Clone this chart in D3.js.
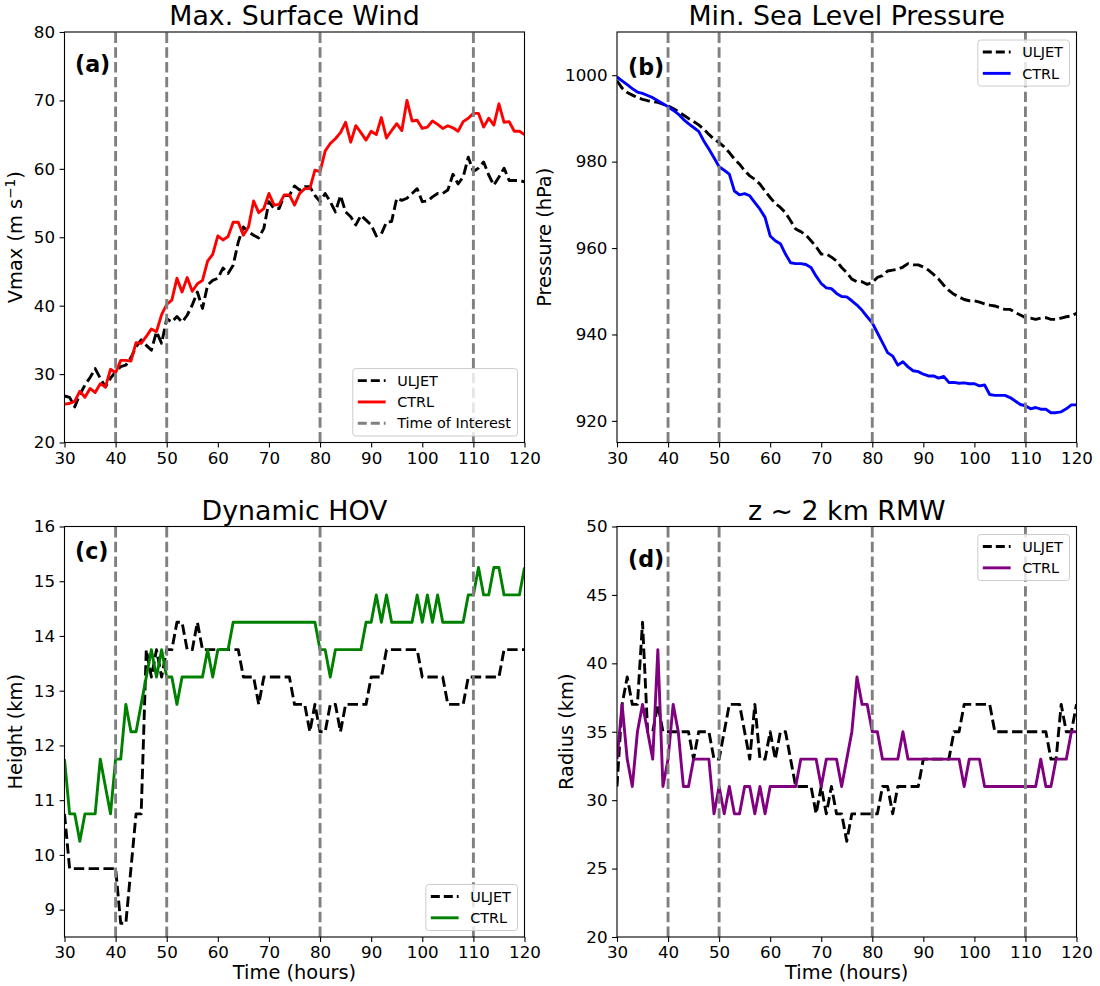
<!DOCTYPE html>
<html>
<head>
<meta charset="utf-8">
<script src="https://cdn.jsdelivr.net/npm/d3@7"></script>
<style>
  body { margin: 0; background: #ffffff; }
  svg text { font-family: "DejaVu Sans", sans-serif; fill: #000; }
</style>
</head>
<body>
<svg id="fig" width="1100" height="986"></svg>
<script>
// Forecast hours (hourly output) and marked times
const hours = d3.range(30, 121);
const timesOfInterest = [40, 50, 80, 110];
const xTicks = [30, 40, 50, 60, 70, 80, 90, 100, 110, 120];

// (a) maximum 10-m wind (m/s)
const windUljet = [
  26.8,26.6,25.2,27.0,28.4,29.5,30.8,29.4,28.1,29.4,
  30.3,31.1,31.3,32.4,34.0,35.0,34.2,33.5,36.2,34.5,
  38.1,37.6,38.4,37.6,38.6,40.1,42.0,39.6,43.0,43.7,
  44.0,45.5,44.7,45.9,49.3,51.5,50.8,50.3,49.9,51.3,
  55.2,54.2,54.2,56.1,56.1,57.5,56.9,57.4,57.4,56.1,
  55.2,56.4,55.2,53.7,56.1,53.7,53.0,51.8,53.2,52.5,
  51.8,50.2,50.5,52.2,52.3,55.7,55.4,55.7,56.4,57.1,
  55.2,55.3,55.9,56.4,56.4,56.9,59.2,57.8,58.8,61.7,
  59.6,60.1,61.0,59.1,57.6,58.8,60.1,58.3,58.3,58.3,
  58.1];
const windCtrl = [
  25.6,25.7,26.0,27.5,26.6,27.9,27.3,28.6,28.1,30.7,
  30.2,32.0,32.0,31.9,34.6,34.5,35.5,36.6,36.2,38.7,
  40.2,40.8,44.0,42.0,44.1,42.1,43.2,43.7,46.5,47.5,
  50.2,49.6,50.1,52.2,52.2,50.3,51.5,55.3,53.6,54.2,
  56.4,54.7,54.8,56.2,56.2,54.7,56.4,57.1,57.1,59.8,
  59.6,62.6,63.7,64.4,65.3,66.8,63.9,66.3,65.3,64.2,
  65.5,65.0,67.5,64.5,65.6,66.6,65.6,70.0,67.0,67.1,
  65.9,66.1,67.0,66.5,65.9,66.3,66.0,65.5,66.9,67.4,
  68.1,68.1,66.1,67.4,66.4,69.5,66.8,66.9,65.5,65.5,
  65.0];

// (b) minimum sea level pressure (hPa)
const presUljet = [
  998.7,997.0,996.0,995.4,994.8,994.4,994.1,993.9,993.7,993.3,
  992.9,992.3,991.6,990.8,990.0,989.3,988.5,987.5,986.3,985.2,
  984.4,983.4,982.1,980.6,979.4,977.9,976.7,975.9,974.8,973.2,
  971.7,970.3,969.4,968.2,966.3,964.4,963.8,963.0,961.7,960.3,
  958.6,958.6,957.9,957.0,955.5,954.3,952.8,952.2,952.2,951.6,
  952.0,953.2,953.6,954.7,954.9,955.1,955.6,956.4,956.1,956.1,
  955.6,954.9,953.9,952.8,951.4,950.2,949.3,948.7,948.1,947.8,
  947.8,947.5,947.1,946.8,946.6,946.2,945.8,945.8,945.1,944.5,
  943.9,943.8,943.5,943.8,943.9,943.5,943.5,943.8,944.1,944.3,
  944.9];
const presCtrl = [
  999.6,998.7,997.8,996.9,996.1,995.8,995.3,994.8,994.1,993.4,
  992.7,991.9,991.0,989.8,988.8,987.9,987.0,984.8,982.9,980.9,
  978.8,978.0,977.1,973.2,972.3,972.6,972.1,970.5,969.0,967.1,
  962.8,961.7,961.0,958.6,956.6,956.4,956.4,956.2,955.5,953.5,
  951.8,950.8,950.6,949.5,948.8,948.7,947.8,946.8,945.6,944.1,
  942.7,940.4,938.1,935.8,935.0,932.9,933.7,932.5,931.6,931.4,
  930.8,930.4,930.4,929.9,930.3,928.9,928.9,928.7,928.8,928.6,
  928.6,928.1,928.3,926.1,925.9,925.9,925.9,925.4,924.6,923.8,
  923.5,922.8,923.1,922.7,922.7,921.9,921.9,922.1,922.8,923.7,
  923.7];

// (c) height of the dynamic HOV (km)
const hovUljet = [
  10.75,9.75,9.75,9.75,9.75,9.75,9.75,9.75,9.75,9.75,
  9.75,8.75,8.75,9.75,10.75,10.75,13.75,13.25,13.75,13.25,
  13.75,13.75,14.25,14.25,13.75,13.75,14.25,13.75,13.75,13.75,
  13.75,13.75,13.75,13.75,13.75,13.25,13.25,13.25,12.75,13.25,
  13.25,13.25,13.25,13.25,13.25,12.75,12.75,12.75,12.25,12.75,
  12.25,12.25,12.75,12.75,12.25,12.75,12.75,12.75,12.75,12.75,
  13.25,13.25,13.25,13.75,13.75,13.75,13.75,13.75,13.75,13.75,
  13.25,13.25,13.25,13.25,13.25,12.75,12.75,12.75,12.75,13.25,
  13.25,13.25,13.25,13.25,13.25,13.25,13.75,13.75,13.75,13.75,
  13.75];
const hovCtrl = [
  11.75,10.75,10.75,10.25,10.75,10.75,10.75,11.75,11.25,10.75,
  11.75,11.75,12.75,12.25,12.25,12.75,13.25,13.75,13.25,13.75,
  13.25,13.25,12.75,13.25,13.25,13.25,13.25,13.25,13.75,13.25,
  13.75,13.75,13.75,14.25,14.25,14.25,14.25,14.25,14.25,14.25,
  14.25,14.25,14.25,14.25,14.25,14.25,14.25,14.25,14.25,14.25,
  13.75,13.75,13.25,13.75,13.75,13.75,13.75,13.75,13.75,14.25,
  14.25,14.75,14.25,14.75,14.25,14.25,14.25,14.25,14.25,14.75,
  14.25,14.75,14.25,14.75,14.25,14.25,14.25,14.25,14.25,14.75,
  14.75,15.25,14.75,14.75,15.25,15.25,14.75,14.75,14.75,14.75,
  15.25];

// (d) radius of maximum wind near z = 2 km (km)
const rmwUljet = [
  31,37,39,37,37,43,35,35,37,35,
  35,35,35,35,35,33,35,35,35,33,
  33,35,37,37,37,35,33,37,33,33,
  35,33,35,35,33,31,31,31,31,29,
  31,29,31,29,29,27,29,29,29,29,
  29,29,31,31,29,31,31,31,31,31,
  33,33,33,33,33,33,35,35,37,37,
  37,37,37,37,35,35,35,35,35,35,
  35,35,35,35,35,33,33,37,35,35,
  37];
const rmwCtrl = [
  33,37,33,31,35,37,35,33,41,31,
  33,37,35,31,31,33,33,33,33,29,
  31,29,31,29,29,31,31,29,31,29,
  31,31,31,31,31,31,33,33,33,33,
  31,33,33,33,31,33,35,39,37,37,
  35,35,33,33,33,33,35,33,33,33,
  33,33,33,33,33,33,33,33,31,33,
  33,33,31,31,31,31,31,31,31,31,
  31,31,31,33,31,31,33,33,33,35,
  35];

// Axis tick values
const windTicks = [20, 30, 40, 50, 60, 70, 80];
const presTicks = [920, 940, 960, 980, 1000];
const hovTicks = [9, 10, 11, 12, 13, 14, 15, 16];
const rmwTicks = [20, 25, 30, 35, 40, 45, 50];

const svg = d3.select("#fig");

const LINE_W = 2.9;
const DASH = "10.4,4.4";
const TICK_FS = 16.7, LABEL_FS = 19.4, TITLE_FS = 26.8, LEGEND_FS = 14.4, TAG_FS = 22.2;

const panels = [
  { key: "a", tag: "(a)", title: "Max. Surface Wind", ylab: "vmax",
    box: { l: 64.5, r: 524.5, t: 32, b: 442.5 }, yDomain: [20, 80], yTicks: windTicks,
    uljet: windUljet, ctrl: windCtrl, color: "#ff0000",
    legend: "lower right", legendToI: true, xlabel: false, tagPos: [10.5, 40], ylabX: 22 },
  { key: "b", tag: "(b)", title: "Min. Sea Level Pressure", ylab: "Pressure (hPa)",
    box: { l: 617, r: 1076.5, t: 32, b: 442.5 }, yDomain: [915, 1010], yTicks: presTicks,
    uljet: presUljet, ctrl: presCtrl, color: "#0000ff",
    legend: "upper right", legendToI: false, xlabel: false, tagPos: [11, 43], ylabX: 551 },
  { key: "c", tag: "(c)", title: "Dynamic HOV", ylab: "Height (km)",
    box: { l: 64.5, r: 524.5, t: 526.5, b: 937 }, yDomain: [8.5, 16], yTicks: hovTicks,
    uljet: hovUljet, ctrl: hovCtrl, color: "#008000",
    legend: "lower right", legendToI: false, xlabel: true, tagPos: [10.5, 32], ylabX: 22 },
  { key: "d", tag: "(d)", title: "z ~ 2 km RMW", ylab: "Radius (km)",
    box: { l: 617, r: 1076.5, t: 526.5, b: 937 }, yDomain: [20, 50], yTicks: rmwTicks,
    uljet: rmwUljet, ctrl: rmwCtrl, color: "#800080",
    legend: "upper right", legendToI: false, xlabel: true, tagPos: [11, 40.5], ylabX: 573 }
];

function styleAxis(g) {
  g.select(".domain").remove();
  g.selectAll(".tick line").attr("stroke", "#000").attr("stroke-width", 1.1);
  g.selectAll(".tick text").attr("font-size", TICK_FS).attr("fill", "#000")
    .attr("font-family", "DejaVu Sans, sans-serif");
}

panels.forEach(p => {
  const { l, r, t, b } = p.box;
  const x = d3.scaleLinear().domain([30, 120]).range([l, r]);
  const y = d3.scaleLinear().domain(p.yDomain).range([b, t]);
  const g = svg.append("g").attr("class", "panel-" + p.key);

  const clipId = "clip-" + p.key;
  g.append("clipPath").attr("id", clipId)
    .append("rect").attr("x", l).attr("y", t).attr("width", r - l).attr("height", b - t);

  const plot = g.append("g").attr("clip-path", `url(#${clipId})`);
  const line = d3.line().x((d, i) => x(hours[i])).y(d => y(d));

  plot.append("path").datum(p.uljet)
    .attr("d", line).attr("fill", "none").attr("stroke", "#000")
    .attr("stroke-width", LINE_W).attr("stroke-dasharray", DASH)
    .attr("stroke-linejoin", "round");
  plot.append("path").datum(p.ctrl)
    .attr("d", line).attr("fill", "none").attr("stroke", p.color)
    .attr("stroke-width", LINE_W).attr("stroke-linejoin", "round");

  // marked times
  plot.selectAll("line.toi").data(timesOfInterest).enter().append("line")
    .attr("class", "toi")
    .attr("x1", d => x(d)).attr("x2", d => x(d))
    .attr("y1", b).attr("y2", t)
    .attr("stroke", "#808080").attr("stroke-width", LINE_W)
    .attr("stroke-dasharray", DASH);

  // axes
  const gx = g.append("g").attr("transform", `translate(0,${b})`)
    .call(d3.axisBottom(x).tickValues(xTicks).tickSize(4.9).tickPadding(4.6).tickFormat(d3.format("d")));
  styleAxis(gx);
  const gy = g.append("g").attr("transform", `translate(${l},0)`)
    .call(d3.axisLeft(y).tickValues(p.yTicks).tickSize(4.9).tickPadding(4.6).tickFormat(d3.format("d")));
  styleAxis(gy);

  // frame
  g.append("rect").attr("x", l).attr("y", t).attr("width", r - l).attr("height", b - t)
    .attr("fill", "none").attr("stroke", "#000").attr("stroke-width", 1.1);

  // title
  g.append("text").attr("x", (l + r) / 2).attr("y", t - 7)
    .attr("text-anchor", "middle").attr("font-size", TITLE_FS).text(p.title);

  // panel tag
  g.append("text").attr("x", l + p.tagPos[0]).attr("y", t + p.tagPos[1])
    .attr("font-size", TAG_FS).attr("font-weight", "bold").text(p.tag);

  // y label
  const yl = g.append("text")
    .attr("transform", `translate(${p.ylabX},${(t + b) / 2}) rotate(-90)`)
    .attr("text-anchor", "middle").attr("font-size", LABEL_FS);
  if (p.ylab === "vmax") {
    yl.append("tspan").text("Vmax (m s");
    yl.append("tspan").attr("font-size", LABEL_FS * 0.7).attr("dy", -7.5).text("\u22121");
    yl.append("tspan").attr("dy", 7.5).text(")");
  } else {
    yl.text(p.ylab);
  }

  if (p.xlabel) {
    g.append("text").attr("x", (l + r) / 2).attr("y", b + 42)
      .attr("text-anchor", "middle").attr("font-size", LABEL_FS).text("Time (hours)");
  }

  // legend
  const entries = [
    { label: "ULJET", color: "#000", dash: DASH },
    { label: "CTRL", color: p.color, dash: null }
  ];
  if (p.legendToI) entries.push({ label: "Time of Interest", color: "#808080", dash: DASH });

  const lg = g.append("g");
  const bg = lg.append("rect");
  const rowH = 21.35, handleL = 27.8, padL = 5, gap = 11.6, padR = 6.6;
  let maxW = 0;
  const items = lg.append("g");
  entries.forEach((e, i) => {
    const cy = 12 + i * rowH;
    items.append("line").attr("x1", padL).attr("x2", padL + handleL)
      .attr("y1", cy).attr("y2", cy)
      .attr("stroke", e.color).attr("stroke-width", LINE_W)
      .attr("stroke-dasharray", e.dash ? "9,4" : null);
    const tx = items.append("text").attr("x", padL + handleL + gap).attr("y", cy)
      .attr("dy", "0.36em").attr("font-size", LEGEND_FS).text(e.label);
    maxW = Math.max(maxW, tx.node().getComputedTextLength());
  });
  const bw = padL + handleL + gap + maxW + padR;
  const bh = 12 + (entries.length - 1) * rowH + 12.7;
  bg.attr("x", 0).attr("y", 0).attr("width", bw).attr("height", bh)
    .attr("rx", 3).attr("fill", "#fff").attr("fill-opacity", 0.8)
    .attr("stroke", "#cccccc").attr("stroke-width", 1);
  const lx = r - 7 - bw;
  const ly = p.legend === "lower right" ? b - 6.5 - bh : t + 8;
  lg.attr("transform", `translate(${lx},${ly})`);
});
</script>
</body>
</html>
